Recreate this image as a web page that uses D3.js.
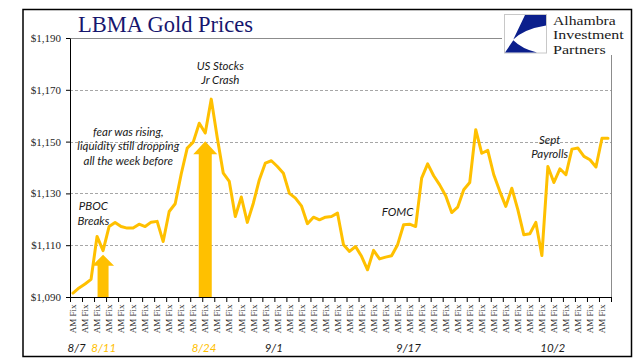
<!DOCTYPE html>
<html><head><meta charset="utf-8">
<script src="https://cdn.jsdelivr.net/npm/d3@7"></script>
<style>
html,body{margin:0;padding:0;background:#fff;}
svg{display:block;}
</style></head><body>
<svg id="chart" width="641" height="364"></svg>
<script>
// ---------- data ----------
const dates = ["8/7","8/10","8/11","8/12","8/13","8/14","8/17","8/18","8/19","8/20","8/21","8/24","8/25","8/26","8/27","8/28",
  "9/1","9/2","9/3","9/4","9/7","9/8","9/9","9/10","9/11","9/14","9/15","9/16","9/17","9/18","9/21","9/22","9/23","9/24","9/25",
  "9/28","9/29","9/30","10/1","10/2","10/5","10/6","10/7","10/8","10/9"];
const fixes = ["AM Fix","PM Fix"];
const prices = [
  1091.5,1093.5, 1095.0,1096.8, 1113.4,1107.9, 1117.2,1118.8, 1117.2,1116.6,
  1116.6,1118.1, 1117.2,1118.9, 1119.2,1111.4, 1123.0,1126.0, 1137.5,1147.5,
  1149.8,1157.1, 1153.3,1166.4, 1151.5,1137.8, 1134.6,1121.1, 1128.6,1118.8,
  1126.2,1135.3, 1141.7,1142.6, 1140.4,1137.8, 1130.0,1128.2, 1125.2,1118.3,
  1120.8,1119.8, 1120.8,1121.1, 1122.4,1110.2, 1107.6,1109.5, 1105.7,1100.5,
  1108.0,1104.7, 1105.4,1105.9, 1110.2,1117.9, 1118.1,1117.2, 1135.9,1141.4,
  1136.8,1133.3, 1129.1,1122.6, 1124.7,1131.4, 1134.2,1154.6, 1145.5,1146.6,
  1137.2,1130.8, 1125.0,1132.0, 1123.7,1114.0, 1114.4,1118.8, 1106.0,1140.4,
  1134.2,1139.5, 1137.2,1147.1, 1147.5,1144.3, 1143.0,1140.2, 1151.3,1151.3
];
const yTicks = [1090,1110,1130,1150,1170,1190];
const dateMarks = ["8/7","8/11","8/24","9/1","9/17","10/2"];
const highlightDates = ["8/11","8/24"];
const arrowCats = ["8/11 PM Fix","8/24 AM Fix"];
const arrowTops = [1106.3, 1150.1];
const noteTexts = [["US Stocks","Jr Crash"],["fear was rising,","liquidity still dropping","all the week before"],["PBOC","Breaks"],["FOMC"],["Sept","Payrolls"]];
const noteIdx = [24.5, 9.2, 3.4, 54, 79.3];
const noteVals = [1177.8, 1152.3, 1123.7, 1121.4, 1149.2];
const logoLines = ["Alhambra", "Investment", "Partners"];

// ---------- build ----------
const categories = dates.flatMap(d => fixes.map(f => d + " " + f));
const svg = d3.select("#chart");
const L = 70, R = 611, T = 38, B = 297;
const gold = "#FFC000";
// label nudges (in category units, relative to the day's AM fix)
const dateShift = [0.6, 1.1, -0.2, 1.4, -0.2, 1.8];

const x = d3.scaleBand().domain(categories).range([L, R]).padding(0);
const cx = c => x(c) + x.bandwidth() / 2;
const xi = d3.scaleLinear().domain([0, categories.length - 1]).range([cx(categories[0]), cx(categories[categories.length - 1])]);
const xb = d3.scaleLinear().domain([0, categories.length]).range([L, R]);
const y = d3.scaleLinear().domain([1090, 1190]).range([B, T]);

// outer frame
svg.append("rect").attr("x", 23).attr("y", 9.5).attr("width", 608.5).attr("height", 347)
  .attr("fill", "#fff").attr("stroke", "#000").attr("stroke-width", 1.5);

// gridlines
svg.append("g").selectAll("line").data(yTicks.filter(v => v > 1090 && v < 1190)).join("line")
  .attr("x1", L).attr("x2", R).attr("y1", d => Math.round(y(d)) + 0.5).attr("y2", d => Math.round(y(d)) + 0.5)
  .attr("stroke", "#a6a6a6").attr("stroke-width", 1).attr("stroke-dasharray", "3,2");

// plot border (top/right)
svg.append("path").attr("d", `M${L},${T + 0.5}H${R + 0.5}V${B}`).attr("fill", "none").attr("stroke", "#8c8c8c").attr("stroke-width", 1);

// y axis
const yAxis = svg.append("g").attr("transform", `translate(${L},0)`)
  .call(d3.axisLeft(y).tickValues(yTicks).tickSize(4).tickSizeOuter(0).tickPadding(5)
    .tickFormat(d => "$" + d3.format(",")(d)));
yAxis.select(".domain").attr("stroke", "#000");
yAxis.selectAll(".tick line").attr("stroke", "#000");
yAxis.selectAll("text").attr("font-family", "'Liberation Serif', serif").attr("font-size", 11).attr("fill", "#262626");

// x axis ticks
const xAxis = svg.append("g").attr("transform", `translate(0,${B})`)
  .call(d3.axisBottom(xb).tickValues(d3.range(0, categories.length + 1, 2)).tickSize(5).tickSizeOuter(0).tickFormat(""));
xAxis.select(".domain").attr("stroke", "#000");
xAxis.selectAll(".tick line").attr("stroke", "#000");

// x labels
svg.append("g").selectAll("text").data(categories.filter((c, i) => i % 2 === 0)).join("text")
  .attr("transform", c => `translate(${cx(c) + 3.2},${B + 7.5}) rotate(-90)`)
  .attr("text-anchor", "end")
  .attr("font-family", "'Liberation Serif', serif").attr("font-size", 9).attr("fill", "#1f1f1f")
  .text(c => c.split(" ").slice(1).join(" "));

// date labels
svg.append("g").selectAll("text").data(dateMarks).join("text")
  .attr("x", (d, i) => xi(dates.indexOf(d) * 2 + dateShift[i])).attr("y", 352)
  .attr("text-anchor", "middle").attr("font-family", "Lato, sans-serif").attr("font-style", "italic")
  .attr("font-size", 11.5).attr("fill", d => highlightDates.includes(d) ? gold : "#1a1a1a")
  .text(d => d);

// line
svg.append("path").datum(prices)
  .attr("d", d3.line().x((d, i) => cx(categories[i])).y(d => y(d)))
  .attr("fill", "none").attr("stroke", gold).attr("stroke-width", 3).attr("stroke-linejoin", "round").attr("stroke-linecap", "round");

// arrows
const arrowDims = [{hw: 11, hh: 11, sw: 5.5}, {hw: 12, hh: 13, sw: 6.5}];
svg.append("g").selectAll("path").data(arrowCats).join("path")
  .attr("d", (c, i) => {
    const a = arrowDims[i], xc = cx(c), top = y(arrowTops[i]);
    return `M${xc},${top}L${xc + a.hw},${top + a.hh}L${xc + a.sw},${top + a.hh}L${xc + a.sw},${B}L${xc - a.sw},${B}L${xc - a.sw},${top + a.hh}L${xc - a.hw},${top + a.hh}Z`;
  })
  .attr("fill", gold);

// notes
const notes = svg.append("g");
noteTexts.forEach((lines, k) => {
  const t = notes.append("text").attr("text-anchor", "middle")
    .attr("font-family", "Lato, sans-serif").attr("font-style", "italic").attr("font-size", 11.5).attr("fill", "#1a1a1a");
  lines.forEach((ln, j) => t.append("tspan").attr("x", xi(noteIdx[k])).attr("y", y(noteVals[k]) + j * 14.8).text(ln));
});

// title
svg.append("text").attr("x", 78).attr("y", 31.5)
  .attr("font-family", "'Liberation Serif', serif").attr("font-size", 22.5).attr("fill", "#16166e")
  .text("LBMA Gold Prices");

// logo
const logo = svg.append("g");
logo.append("rect").attr("x", 502).attr("y", 11).attr("width", 126).attr("height", 44).attr("fill", "#fff");
const lg = logo.append("g").attr("transform", "translate(504,14)");
lg.append("rect").attr("x", 0.5).attr("y", 0.5).attr("width", 42).attr("height", 38.5).attr("fill", "#fff").attr("stroke", "#c8c8c8");
lg.append("path").attr("d", "M21,1L42,1L42,11.5Q20,15 9.3,25.5Z").attr("fill", "#0b1f8c");
lg.append("path").attr("d", "M1,38.5L33,38.5Q18,35 9.3,26.3Z").attr("fill", "#0b1f8c");
const logoWidths = [62.7, 70.7, 52.7];
logoLines.forEach((t, i) => {
  logo.append("text").attr("x", 553).attr("y", 24.6 + i * 14.6)
    .attr("font-family", "'Liberation Serif', serif").attr("font-size", 13.2).attr("fill", "#1a1a1a")
    .attr("textLength", logoWidths[i]).attr("lengthAdjust", "spacingAndGlyphs")
    .text(t);
});
</script>
</body></html>
